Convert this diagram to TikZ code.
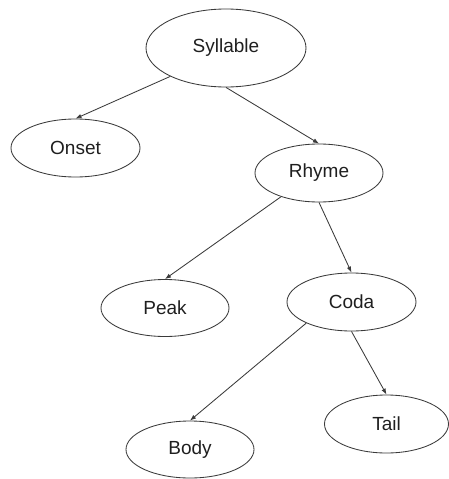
\documentclass[tikz,border=0pt]{standalone}
\usepackage{fontspec}
\setmainfont{Liberation Sans}
\usetikzlibrary{shapes.geometric,arrows.meta}
\definecolor{edgegray}{HTML}{3A3A3A}
\begin{document}
\begin{tikzpicture}[x=1pt,y=-1pt,
  unit/.style={ellipse,draw=edgegray,line width=0.85pt,inner sep=0pt,
    minimum width=128pt,minimum height=58pt,
    font=\fontsize{19}{21}\selectfont,text=black!88},
  link/.style={draw=edgegray,line width=0.85pt,
    -{Latex[length=6pt,width=4.5pt]}}]
  \useasboundingbox (0,0) rectangle (449,479);
  % syllable structure tree
  \node[unit,minimum width=160pt,minimum height=78pt] (syl) at (226,48) {Syllable};
  \node[unit,minimum width=129pt] (on) at (75.5,148) {Onset};
  \node[unit] (rh) at (319,173) {Rhyme};
  \node[unit,minimum height=57pt] (pk) at (165,308) {Peak};
  \node[unit,minimum width=129pt] (cd) at (351.5,302) {Coda};
  \node[unit,minimum height=57pt] (bd) at (190,449.5) {Body};
  \node[unit,minimum width=124pt] (tl) at (386.5,424) {Tail};
  % branches
  \draw[link] (syl.207) -- (on.north);
  \draw[link] (syl.south) -- (rh.north);
  \draw[link] (rh.212) -- (pk.north);
  \draw[link] (rh.south) -- (cd.north);
  \draw[link] (cd.205) -- (bd.north);
  \draw[link] (cd.south) -- (tl.north);
\end{tikzpicture}
\end{document}
